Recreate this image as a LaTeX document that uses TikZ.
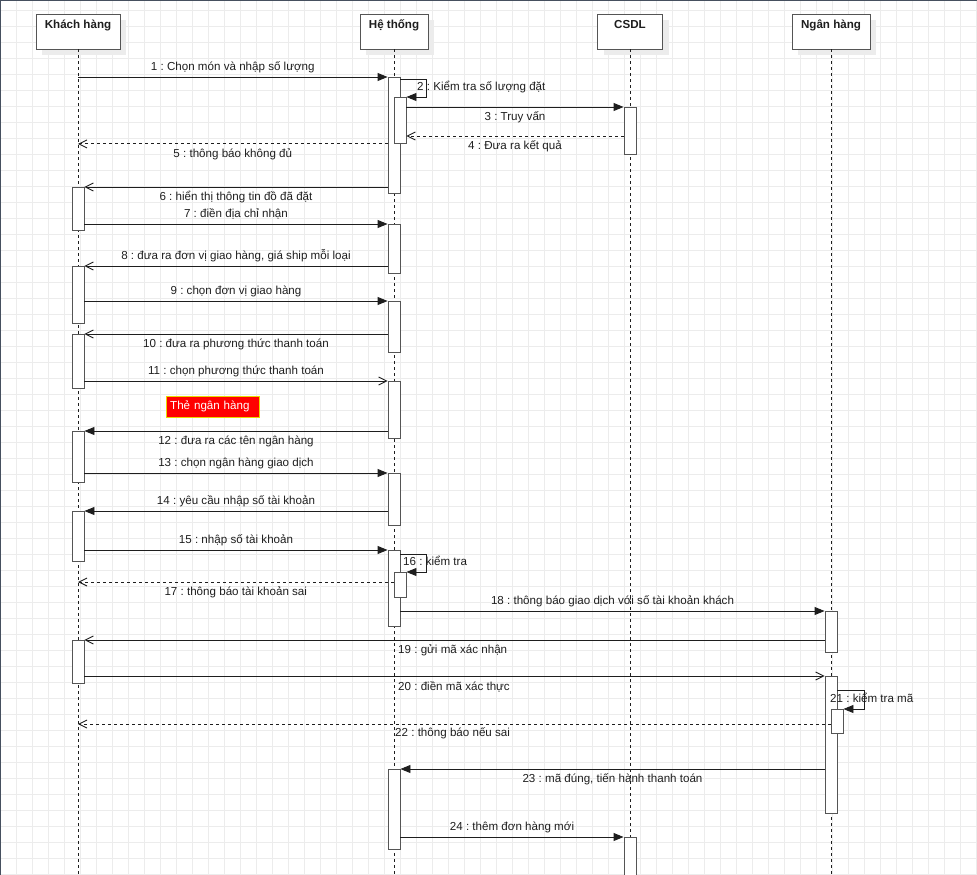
\documentclass[tikz,border=0pt]{standalone}
\usepackage{xcolor}
\usepackage{fontspec}
\setmainfont{Liberation Sans}
\usepackage{tikz}
\usetikzlibrary{positioning,arrows.meta,shadows}
\frenchspacing
\definecolor{gridgray}{RGB}{236,236,236}
\definecolor{linegray}{RGB}{30,30,30}
\definecolor{boxgray}{RGB}{85,85,85}
\definecolor{shadowgray}{RGB}{236,236,236}
\definecolor{framegray}{RGB}{70,80,95}
\definecolor{notered}{RGB}{255,0,0}
\definecolor{noteyellow}{RGB}{235,215,0}

\begin{document}
\begin{tikzpicture}[x=1pt, y=-1pt,
    font=\fontsize{11.6}{13}\selectfont, text=linegray,
    gridline/.style={gridgray, line width=0.8pt},
    frame/.style={framegray, line width=1.2pt},
    participant/.style={rectangle, draw=boxgray, fill=white, anchor=north, minimum height=35pt, text height=11pt, text depth=18pt, inner sep=3pt, font=\fontsize{11.6}{13}\selectfont\bfseries, drop shadow={shadow xshift=6pt, shadow yshift=-6pt, fill=shadowgray, opacity=1}},
    lifeline/.style={linegray, line width=0.9pt, dash pattern=on 3pt off 3pt},
    act/.style={rectangle, draw=boxgray, fill=white, anchor=north, minimum width=12pt, inner sep=0pt, line width=0.9pt},
    call/.style={linegray, line width=0.9pt, -{Triangle[length=10pt,width=8pt]}},
    reply/.style={linegray, line width=0.9pt, -{Straight Barb[length=8pt,width=8pt]}},
    back/.style={reply, dash pattern=on 3pt off 3pt},
    lblup/.style={midway, above=3.5pt, inner sep=0pt, text height=9pt, text depth=2.5pt},
    lbldown/.style={midway, below=4pt, inner sep=0pt, text height=9pt, text depth=2.5pt},
    lblfree/.style={anchor=base west, inner sep=0pt},
    note/.style={rectangle, draw=noteyellow, fill=notered, text=white, anchor=north west, text width=85pt, inner xsep=4pt, inner ysep=0pt, minimum height=21pt, align=left}
]
\useasboundingbox (0,0) rectangle (977,875);

% grid
\foreach \gx in {16,32,...,976} \draw[gridline] (\gx,0) -- (\gx,875);
\foreach \gy in {10,26,...,874} \draw[gridline] (0,\gy) -- (977,\gy);
\draw[frame] (0.6,875) -- (0.6,0.6) -- (977,0.6);

% participants
\node[participant, minimum width=84pt] (kh) at (78,14) {Khách hàng};
\node[participant, minimum width=68pt] (ht) at (394,14) {Hệ thống};
\node[participant, minimum width=65pt] (csdl) at (630,14) {CSDL};
\node[participant, minimum width=78pt] (nh) at (831,14) {Ngân hàng};

\draw[lifeline] (kh.south) -- (kh.south |- 0,875);
\draw[lifeline] (ht.south) -- (ht.south |- 0,875);
\draw[lifeline] (csdl.south) -- (csdl.south |- 0,875);
\draw[lifeline] (nh.south) -- (nh.south |- 0,875);

% activations
\node[act, minimum height=116pt] (h1) at (394,77) {};
\node[act, minimum height=46pt] (h2) at (400,97) {};
\node[act, minimum height=49pt] (h3) at (394,224) {};
\node[act, minimum height=51pt] (h4) at (394,301) {};
\node[act, minimum height=57pt] (h5) at (394,381) {};
\node[act, minimum height=52pt] (h6) at (394,473) {};
\node[act, minimum height=76pt] (h7) at (394,550) {};
\node[act, minimum height=25pt] (h8) at (400,572) {};
\node[act, minimum height=80pt] (h9) at (394,769) {};

\node[act, minimum height=47pt] (c1) at (630,107) {};
\node[act, minimum height=45pt] (c2) at (630,837) {};

\node[act, minimum height=43pt] (k1) at (78,187) {};
\node[act, minimum height=57pt] (k2) at (78,266) {};
\node[act, minimum height=54pt] (k3) at (78,334) {};
\node[act, minimum height=51pt] (k4) at (78,431) {};
\node[act, minimum height=50pt] (k5) at (78,511) {};
\node[act, minimum height=43pt] (k6) at (78,640) {};

\node[act, minimum height=41pt] (n1) at (831,611) {};
\node[act, minimum height=137pt] (n2) at (831,676) {};
\node[act, minimum height=24pt] (n3) at (837,709) {};

% messages
\draw[call] (kh.south |- h1.north) -- (h1.north west) node[lblup] {1 : Chọn món và nhập số lượng};
\draw[call] ([yshift=-2pt]h1.north east) -- ++(26,0) |- (h2.north east);
\node[lblfree] (m2) at (417,90) {2 : Kiểm tra số lượng đặt};
\draw[call] (h2.east |- c1.north) -- (c1.north west) node[lbldown] {3 : Truy vấn};
\draw[back] (c1.west |- 0,136) -- (h2.east |- 0,136) node[lbldown] {4 : Đưa ra kết quả};
\draw[back] (h1.west |- h2.south) -- (kh.south |- h2.south) node[lbldown] {5 : thông báo không đủ};
\draw[reply] (h1.west |- k1.north) -- (k1.north east) node[lbldown] {6 : hiển thị thông tin đồ đã đặt};
\draw[call] (k1.east |- h3.north) -- (h3.north west) node[lblup] {7 : điền địa chỉ nhận};
\draw[reply] (h3.west |- k2.north) -- (k2.north east) node[lblup] {8 : đưa ra đơn vị giao hàng, giá ship mỗi loại};
\draw[call] (k2.east |- h4.north) -- (h4.north west) node[lblup] {9 : chọn đơn vị giao hàng};
\draw[reply] (h4.west |- k3.north) -- (k3.north east) node[lbldown] {10 : đưa ra phương thức thanh toán};
\draw[reply] (k3.east |- h5.north) -- (h5.north west) node[lblup] {11 : chọn phương thức thanh toán};
\draw[call] (h5.west |- k4.north) -- (k4.north east) node[lbldown] {12 : đưa ra các tên ngân hàng};
\draw[call] (k4.east |- h6.north) -- (h6.north west) node[lblup] {13 : chọn ngân hàng giao dịch};
\draw[call] (h6.west |- k5.north) -- (k5.north east) node[lblup] {14 : yêu cầu nhập số tài khoản};
\draw[call] (k5.east |- h7.north) -- (h7.north west) node[lblup] {15 : nhập số tài khoản};
\draw[call] ([yshift=-4pt]h7.north east) -- ++(26,0) |- (h8.north east);
\node[lblfree] (m16) at (403,565) {16 : kiểm tra};
\draw[back] (h8.west |- 0,582) -- (kh.south |- 0,582) node[lbldown] {17 : thông báo tài khoản sai};
\draw[call] (h7.east |- n1.north) -- (n1.north west) node[lblup] {18 : thông báo giao dịch với số tài khoản khách};
\draw[reply] (n1.west |- k6.north) -- (k6.north east);
\node[lblfree] (m19) at (398,653) {19 : gửi mã xác nhận};
\draw[reply] (k6.east |- n2.north) -- (n2.north west);
\node[lblfree] (m20) at (398,690) {20 : điền mã xác thực};
\draw[call] ([yshift=-14pt]n2.north east) -- ++(27,0) |- (n3.north east);
\node[lblfree] (m21) at (830,702) {21 : kiểm tra mã};
\draw[back] (n3.west |- 0,724) -- (kh.south |- 0,724);
\node[lblfree] (m22) at (395,736) {22 : thông báo nếu sai};
\draw[call] (n2.west |- h9.north) -- (h9.north east) node[lbldown] {23 : mã đúng, tiến hành thanh toán};
\draw[call] (h9.east |- c2.north) -- (c2.north west) node[lblup] {24 : thêm đơn hàng mới};

% note
\node[note] (card) at (166,396) {Thẻ ngân hàng};

\end{tikzpicture}
\end{document}
